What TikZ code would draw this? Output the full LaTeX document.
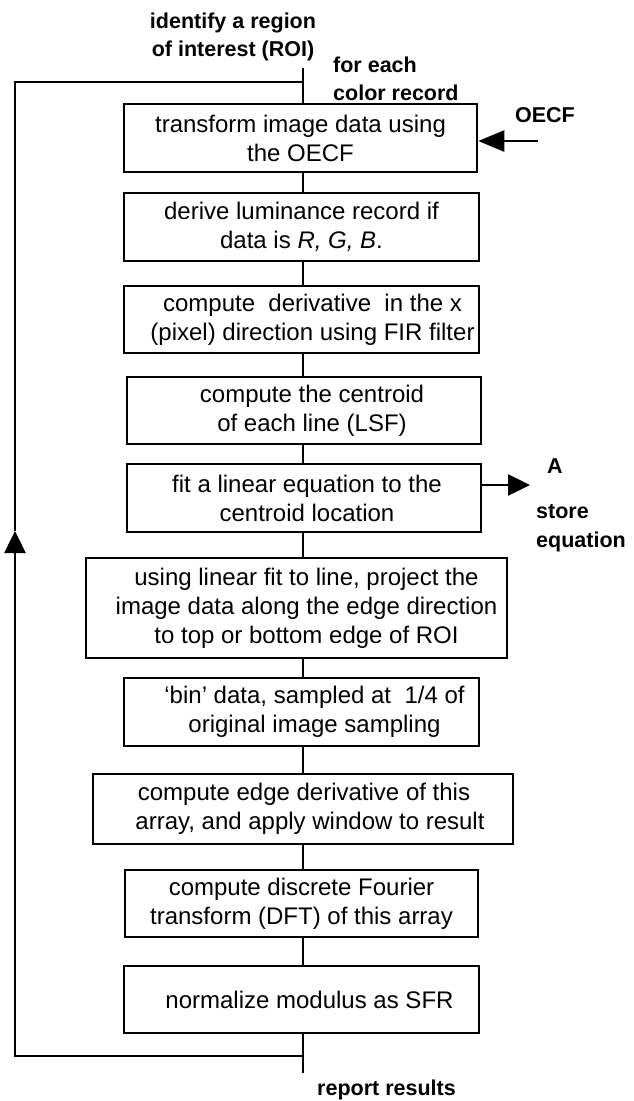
\documentclass[tikz,border=0pt]{standalone}
\usepackage{fontspec}
\setmainfont{Liberation Sans}
\usetikzlibrary{arrows.meta}
\newcommand\lead[1]{\hspace*{#1pt}}
\begin{document}
\begin{tikzpicture}[x=1pt,y=-1pt,
  stepbox/.style={draw,line width=2.5pt,inner sep=0pt,align=center,
    font=\fontsize{24}{29}\selectfont},
  lbl/.style={inner sep=0pt,font=\fontsize{21.5}{28.5}\selectfont\bfseries},
  conn/.style={line width=2.5pt},
  arr/.style={line width=2.5pt,-{Triangle[length=22pt,width=21pt]}}]
\useasboundingbox (0,0) rectangle (634,1101);
% boxes
\node[stepbox,minimum width=353pt,minimum height=68pt] (b1) at (300.5,138)
  {transform image data using\\the OECF};
\node[stepbox,minimum width=355pt,minimum height=68pt] (b2) at (301.5,227)
  {derive luminance record if\\data is \textit{R, G, B}.};
\node[stepbox,minimum width=355pt,minimum height=67pt] (b3) at (301.5,319.5)
  {\lead{22}compute\ \ derivative\ \ in the x\\\lead{22}(pixel) direction using FIR filter};
\node[stepbox,minimum width=354pt,minimum height=67pt] (b4) at (304,410.5)
  {\lead{16}compute the centroid\\\lead{16}of each line (LSF)};
\node[stepbox,minimum width=354pt,minimum height=68pt] (b5) at (304,498)
  {\lead{6}fit a linear equation to the\\\lead{6}centroid location};
\node[stepbox,minimum width=421pt,minimum height=100pt] (b6) at (296.5,608)
  {\lead{20}using linear fit to line, project the\\\lead{20}image data along the edge direction\\\lead{20}to top or bottom edge of ROI};
\node[stepbox,minimum width=355pt,minimum height=68pt] (b7) at (301.5,712)
  {\lead{26}‘bin’ data, sampled at\ \ 1/4 of\\\lead{26}original image sampling};
\node[stepbox,minimum width=420pt,minimum height=70pt] (b8) at (303,809)
  {\lead{2}compute edge derivative of this\\\lead{14}array, and apply window to result};
\node[stepbox,minimum width=353pt,minimum height=67pt] (b9) at (301.5,903.5)
  {compute discrete Fourier\\transform (DFT) of this array};
\node[stepbox,minimum width=355pt,minimum height=67pt] (b10) at (301.5,999.5)
  {\lead{16}normalize modulus as SFR};
% labels
\node[lbl,align=center] (roi) at (233,37) {identify a region\\of interest (ROI)};
\node[lbl,align=left,anchor=west] (fe) at (333,79) {for each\\color record};
\node[lbl] (oecfl) at (545,115) {OECF};
\node[lbl] (alab) at (555,466) {A};
\node[lbl,align=left,anchor=west] (store) at (536,528) {store\\equation};
\node[lbl,anchor=west] (rep) at (317,1090) {report results};
% coordinates
\coordinate (cx) at (303,0);
\coordinate (top) at (303,68);
\coordinate (jt) at (303,82);
\coordinate (lt) at (15,82);
\coordinate (lb) at (15,1056);
\coordinate (jb) at (303,1056);
\coordinate (bot) at (303,1073);
\coordinate (atip) at (15,531);
\coordinate (oecf0) at (538,141);
\coordinate (atipA) at (530,485);
% connectors
\draw[conn] (top) -- (b1.north -| cx);
\draw[conn] (b1.south -| cx) -- (b2.north -| cx);
\draw[conn] (b2.south -| cx) -- (b3.north -| cx);
\draw[conn] (b3.south -| cx) -- (b4.north -| cx);
\draw[conn] (b4.south -| cx) -- (b5.north -| cx);
\draw[conn] (b5.south -| cx) -- (b6.north -| cx);
\draw[conn] (b6.south -| cx) -- (b7.north -| cx);
\draw[conn] (b7.south -| cx) -- (b8.north -| cx);
\draw[conn] (b8.south -| cx) -- (b9.north -| cx);
\draw[conn] (b9.south -| cx) -- (b10.north -| cx);
\draw[conn] (b10.south -| cx) -- (bot);
\draw[conn] (jt) -- (lt) -- (atip);
\draw[arr] (jb) -- (lb) -- (atip);
\draw[line width=2.5pt,-{Triangle[length=26pt,width=21pt]}] (oecf0) -- (b1.east |- oecf0);
\draw[arr] (b5.east |- atipA) -- (atipA);
\end{tikzpicture}
\end{document}
